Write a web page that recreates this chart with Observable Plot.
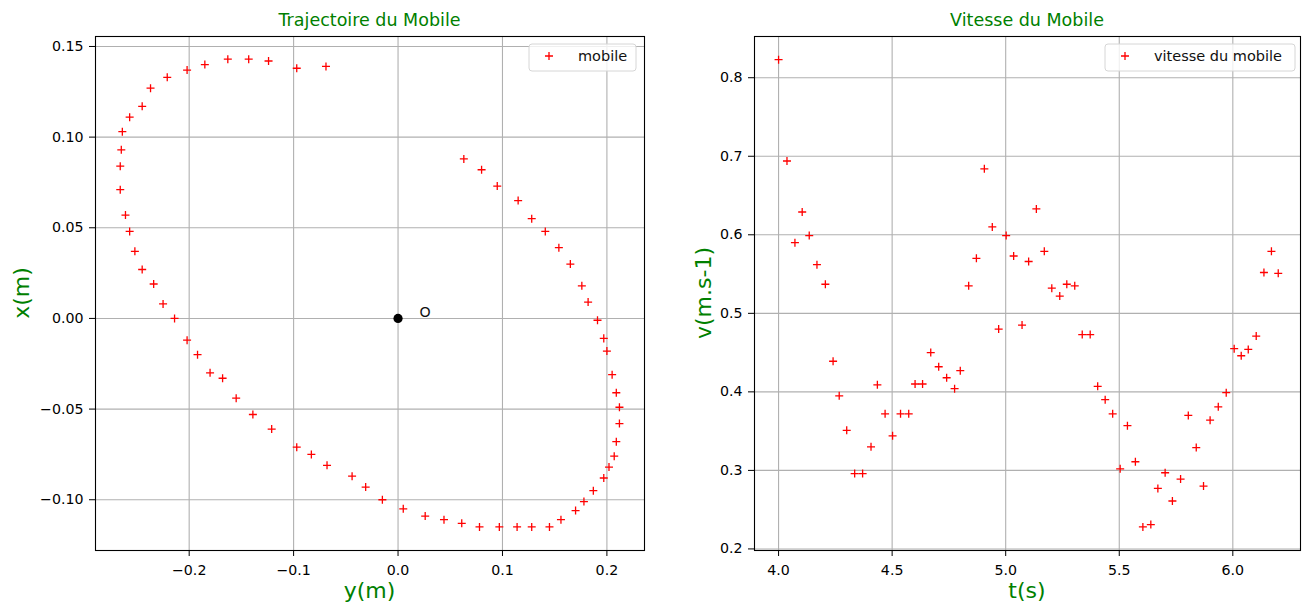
<!DOCTYPE html>
<html><head><meta charset="utf-8">
<script src="https://cdn.jsdelivr.net/npm/d3@7"></script>
<script src="https://cdn.jsdelivr.net/npm/@observablehq/plot@0.6"></script>
<style>
html,body{margin:0;padding:0;background:#fff;}
#wrap{position:relative;width:1304px;height:606px;overflow:hidden;font-family:"DejaVu Sans",sans-serif;}
#wrap > svg{position:absolute;top:0;}
</style></head><body><div id="wrap"></div>
<script>
// ---------- Trajectory (horizontal axis = y(m), vertical axis = x(m)) ----------
const posY = [0.063, 0.080, 0.095, 0.115, 0.128, 0.141, 0.154, 0.165, 0.176, 0.182,
  0.191, 0.197, 0.200, 0.205, 0.209, 0.212, 0.212, 0.209, 0.207, 0.202,
  0.197, 0.187, 0.178, 0.170, 0.156, 0.145, 0.128, 0.114, 0.097, 0.078,
  0.061, 0.044, 0.026, 0.005, -0.015, -0.031, -0.044, -0.068, -0.083, -0.097,
  -0.121, -0.139, -0.155, -0.168, -0.180, -0.192, -0.202, -0.214, -0.225, -0.234,
  -0.245, -0.252, -0.257, -0.261, -0.266, -0.266, -0.265, -0.264, -0.257, -0.245,
  -0.237, -0.221, -0.202, -0.185, -0.163, -0.143, -0.124, -0.097, -0.069];
const posX = [0.088, 0.082, 0.073, 0.065, 0.055, 0.048, 0.039, 0.030, 0.018, 0.009,
  -0.001, -0.011, -0.018, -0.031, -0.041, -0.049, -0.058, -0.068, -0.076, -0.082,
  -0.088, -0.095, -0.101, -0.106, -0.111, -0.115, -0.115, -0.115, -0.115, -0.115,
  -0.113, -0.111, -0.109, -0.105, -0.100, -0.093, -0.087, -0.081, -0.075, -0.071,
  -0.061, -0.053, -0.044, -0.033, -0.030, -0.020, -0.012, 0.000, 0.008, 0.019,
  0.027, 0.037, 0.048, 0.057, 0.071, 0.084, 0.093, 0.103, 0.111, 0.117,
  0.127, 0.133, 0.137, 0.140, 0.143, 0.143, 0.142, 0.138, 0.139];
const trajHTicks = [-0.2, -0.1, 0.0, 0.1, 0.2];
const trajVTicks = [-0.10, -0.05, 0.00, 0.05, 0.10, 0.15];
const originPoint = [{y: 0, x: 0}];
const originLabel = [{y: 0.0205, x: 0.0035, text: "O"}];

// ---------- Speed ----------
const time = [4.000, 4.037, 4.072, 4.104, 4.135, 4.169, 4.206, 4.240, 4.267, 4.300,
  4.335, 4.370, 4.407, 4.435, 4.469, 4.502, 4.537, 4.573, 4.601, 4.634,
  4.670, 4.705, 4.740, 4.775, 4.800, 4.837, 4.871, 4.906, 4.941, 4.969,
  5.002, 5.035, 5.072, 5.101, 5.135, 5.170, 5.203, 5.238, 5.269, 5.304,
  5.337, 5.372, 5.405, 5.438, 5.471, 5.504, 5.536, 5.571, 5.604, 5.639,
  5.670, 5.702, 5.734, 5.770, 5.804, 5.839, 5.871, 5.900, 5.936, 5.971,
  6.006, 6.037, 6.068, 6.103, 6.137, 6.170, 6.200];
const speed = [0.823, 0.694, 0.590, 0.629, 0.599, 0.562, 0.537, 0.439, 0.395, 0.351,
  0.296, 0.296, 0.330, 0.409, 0.372, 0.344, 0.372, 0.372, 0.410, 0.410,
  0.450, 0.432, 0.418, 0.404, 0.427, 0.535, 0.570, 0.684, 0.610, 0.480,
  0.599, 0.573, 0.485, 0.566, 0.633, 0.579, 0.532, 0.522, 0.537, 0.535,
  0.473, 0.473, 0.407, 0.390, 0.372, 0.302, 0.357, 0.311, 0.228, 0.231,
  0.277, 0.297, 0.261, 0.289, 0.370, 0.329, 0.280, 0.364, 0.381, 0.399,
  0.455, 0.446, 0.454, 0.471, 0.552, 0.579, 0.551];
const speedHTicks = [4.0, 4.5, 5.0, 5.5, 6.0];
const speedVTicks = [0.2, 0.3, 0.4, 0.5, 0.6, 0.7, 0.8];

// ---------- Texts ----------
const titles = ["Trajectoire du Mobile", "Vitesse du Mobile"];
const xLabels = ["y(m)", "t(s)"];
const yLabels = ["x(m)", "v(m.s-1)"];
const legendLabels = ["mobile", "vitesse du mobile"];

const GREEN = "#008000";
const GRID = "#b0b0b0";
const baseStyle = {fontFamily: "DejaVu Sans", fontSize: "14.2px", color: "#000", background: "transparent", overflow: "visible"};

const trajData = posY.map((v, i) => ({y: v, x: posX[i]}));
const speedData = time.map((v, i) => ({t: v, v: speed[i]}));

const left = Plot.plot({
  width: 652, height: 606,
  marginLeft: 95, marginRight: 8, marginTop: 36, marginBottom: 56,
  style: baseStyle,
  x: {domain: [-0.2897, 0.236], ticks: trajHTicks, tickFormat: d3.format(".1f"), tickSize: 6, tickPadding: 8, label: null},
  y: {domain: [-0.128, 0.1555], ticks: trajVTicks, tickFormat: d3.format(".2f"), tickSize: 6, tickPadding: 6, label: null},
  marks: [
    Plot.ruleX(trajHTicks, {stroke: GRID, strokeWidth: 1.1}),
    Plot.ruleY(trajVTicks, {stroke: GRID, strokeWidth: 1.1}),
    Plot.dot(trajData, {x: "y", y: "x", symbol: "plus", r: 2.7, stroke: "red", strokeWidth: 1.3}),
    Plot.dot(originPoint, {x: "y", y: "x", r: 4.6, fill: "black"}),
    Plot.text(originLabel, {x: "y", y: "x", text: "text", textAnchor: "start", fontSize: 14.2, fill: "#111"}),
    Plot.frame({stroke: "black", strokeWidth: 1.1})
  ]
});
left.style.left = "0px";

const right = Plot.plot({
  width: 652, height: 606,
  marginLeft: 102, marginRight: 4, marginTop: 36, marginBottom: 56,
  style: baseStyle,
  x: {domain: [3.894, 6.298], ticks: speedHTicks, tickFormat: d3.format(".1f"), tickSize: 6, tickPadding: 8, label: null},
  y: {domain: [0.198, 0.8525], ticks: speedVTicks, tickFormat: d3.format(".1f"), tickSize: 6, tickPadding: 6, label: null},
  marks: [
    Plot.ruleX(speedHTicks, {stroke: GRID, strokeWidth: 1.1}),
    Plot.ruleY(speedVTicks, {stroke: GRID, strokeWidth: 1.1}),
    Plot.dot(speedData, {x: "t", y: "v", symbol: "plus", r: 2.7, stroke: "red", strokeWidth: 1.3}),
    Plot.frame({stroke: "black", strokeWidth: 1.1})
  ]
});
right.style.left = "652px";

const wrap = document.getElementById("wrap");
wrap.appendChild(left);
wrap.appendChild(right);

// ---------- Overlay: titles, axis labels, legends ----------
const ov = d3.select(wrap).append("svg")
  .attr("width", 1304).attr("height", 606)
  .style("left", "0px").style("pointer-events", "none")
  .style("font-family", "DejaVu Sans");

const panels = [
  {cx: 369.5, ylabX: 29, legX: 529, legW: 107},
  {cx: 1027, ylabX: 711, legX: 1105, legW: 190}
];
panels.forEach((p, i) => {
  ov.append("text").attr("x", p.cx).attr("y", 25.7).attr("text-anchor", "middle")
    .attr("font-size", 17.5).attr("fill", GREEN).text(titles[i]);
  ov.append("text").attr("x", p.cx).attr("y", 597.5).attr("text-anchor", "middle")
    .attr("font-size", 22).attr("fill", GREEN).text(xLabels[i]);
  ov.append("text").attr("transform", `translate(${p.ylabX},293) rotate(-90)`).attr("text-anchor", "middle")
    .attr("font-size", 22).attr("fill", GREEN).text(yLabels[i]);
  const g = ov.append("g");
  g.append("rect").attr("x", p.legX).attr("y", 44).attr("width", p.legW).attr("height", 27)
    .attr("rx", 3).attr("fill", "white").attr("fill-opacity", 0.8).attr("stroke", "#d6d6d6").attr("stroke-width", 1);
  g.append("path").attr("d", `M${p.legX + 16},56H${p.legX + 24}M${p.legX + 20},52V60`)
    .attr("stroke", "red").attr("stroke-width", 1.3).attr("fill", "none");
  g.append("text").attr("x", p.legX + 49).attr("y", 61.2).attr("font-size", 14.5).attr("fill", "#111").text(legendLabels[i]);
});
</script></body></html>
